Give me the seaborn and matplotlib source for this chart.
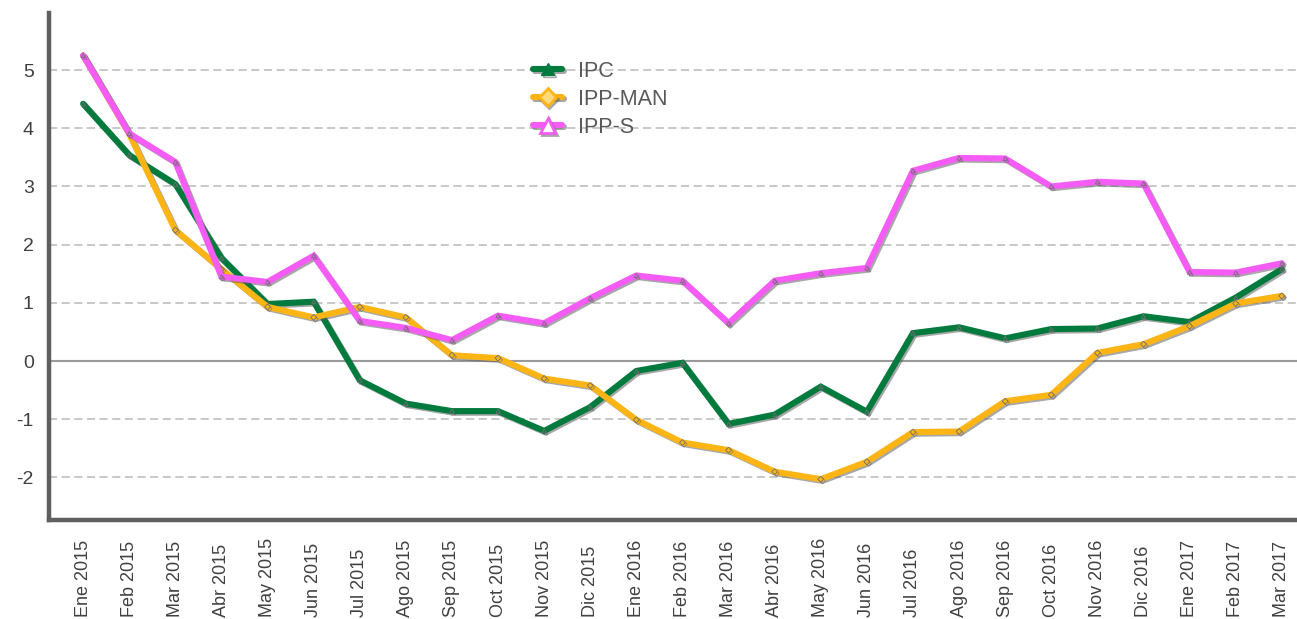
import numpy as np
import pandas as pd
import matplotlib
matplotlib.use("Agg")
import matplotlib.pyplot as plt
import matplotlib.patheffects as pe
from matplotlib.lines import Line2D
import seaborn as sns

months = ["Ene 2015", "Feb 2015", "Mar 2015", "Abr 2015", "May 2015", "Jun 2015",
          "Jul 2015", "Ago 2015", "Sep 2015", "Oct 2015", "Nov 2015", "Dic 2015",
          "Ene 2016", "Feb 2016", "Mar 2016", "Abr 2016", "May 2016", "Jun 2016",
          "Jul 2016", "Ago 2016", "Sep 2016", "Oct 2016", "Nov 2016", "Dic 2016",
          "Ene 2017", "Feb 2017", "Mar 2017"]

ipc = [4.42, 3.54, 3.04, 1.77, 0.98, 1.02, -0.33, -0.73, -0.86, -0.86, -1.20, -0.79,
       -0.17, -0.03, -1.08, -0.92, -0.44, -0.87, 0.48, 0.58, 0.39, 0.55, 0.56, 0.77,
       0.67, 1.09, 1.58]
ipp_man = [5.25, 3.90, 2.25, 1.58, 0.93, 0.75, 0.93, 0.75, 0.10, 0.05, -0.30, -0.42,
           -1.01, -1.40, -1.53, -1.90, -2.03, -1.73, -1.22, -1.21, -0.69, -0.58, 0.14,
           0.29, 0.60, 0.99, 1.12]
ipp_s = [5.25, 3.91, 3.42, 1.45, 1.36, 1.81, 0.69, 0.57, 0.36, 0.78, 0.65, 1.08,
         1.47, 1.38, 0.65, 1.38, 1.51, 1.60, 3.27, 3.49, 3.48, 3.00, 3.08, 3.05,
         1.53, 1.52, 1.68]

series_names = ["IPC", "IPP-MAN", "IPP-S"]
colors = {"IPC": "#007A3D", "IPP-MAN": "#FDB515", "IPP-S": "#F55CF5"}
marker_map = {"IPC": "^", "IPP-MAN": "D", "IPP-S": "^"}

idx = np.arange(len(months))
df = pd.concat([
    pd.DataFrame({"mes": idx, "valor": vals, "serie": name})
    for name, vals in zip(series_names, [ipc, ipp_man, ipp_s])
], ignore_index=True)

sns.set_style("white")
plt.rcParams["font.family"] = ["Liberation Sans", "DejaVu Sans"]

fig = plt.figure(figsize=(12.97, 6.19), dpi=100)
ax = fig.add_axes([0.0378, 0.16, 0.9622, 0.819])

shadow = [pe.SimpleLineShadow(offset=(1.2, -1.2), shadow_color="#606060", alpha=0.55),
          pe.Normal()]

sns.lineplot(data=df, x="mes", y="valor", hue="serie", style="serie",
             palette=colors, markers=marker_map, dashes=False,
             hue_order=series_names, style_order=series_names,
             linewidth=4.4, markersize=3, markeredgewidth=0.6,
             legend=False, ax=ax)
for ln in ax.get_lines():
    ln.set_path_effects(shadow)
    ln.set_solid_joinstyle("miter")
    ln.set_markerfacecolor(ln.get_color())
    ln.set_markeredgecolor("#707070")

ax.set_xlim(-0.74, 26.33)
ax.set_ylim(-2.73, 5.98)

# horizontal reference lines
for v in [-2, -1, 1, 2, 3, 4, 5]:
    ax.axhline(v, color="#C4C4C4", lw=1.3, ls=(0, (4.5, 2.5)), zorder=0)
ax.axhline(0, color="#9A9A9A", lw=1.5, zorder=0)

ax.set_yticks(range(-2, 6))
ax.set_yticklabels([str(v) for v in range(-2, 6)])
ax.tick_params(axis="y", labelsize=14, labelcolor="#404040", length=0, pad=11)

ax.set_xticks(idx)
ax.set_xticklabels(months, rotation=90)
ax.tick_params(axis="x", labelsize=13, labelcolor="#404040", length=0, pad=70)
for lbl in ax.get_xticklabels():
    lbl.set_verticalalignment("bottom")

ax.set_xlabel("")
ax.set_ylabel("")

for side in ["top", "right"]:
    ax.spines[side].set_visible(False)
for side in ["left", "bottom"]:
    ax.spines[side].set_color("#5F5F5F")
    ax.spines[side].set_linewidth(3.2)

handles = [
    Line2D([], [], color=colors["IPC"], lw=4.4, marker="^", markersize=9,
           markerfacecolor=colors["IPC"], markeredgecolor=colors["IPC"],
           path_effects=shadow),
    Line2D([], [], color=colors["IPP-MAN"], lw=4.4, marker="D", markersize=9,
           markerfacecolor="#FFD97A", markeredgecolor=colors["IPP-MAN"],
           markeredgewidth=2, path_effects=shadow),
    Line2D([], [], color=colors["IPP-S"], lw=4.4, marker="^", markersize=11,
           markerfacecolor="white", markeredgecolor=colors["IPP-S"],
           markeredgewidth=2, path_effects=shadow),
]
leg = ax.legend(handles, series_names, loc="upper left",
                bbox_to_anchor=(0.411, 0.902), bbox_transform=fig.transFigure,
                frameon=False, fontsize=15.5, handlelength=1.35,
                handletextpad=0.75, labelspacing=0.33, borderpad=0,
                borderaxespad=0)
for t in leg.get_texts():
    t.set_color("#595959")

fig.savefig("out.png", dpi=100)
